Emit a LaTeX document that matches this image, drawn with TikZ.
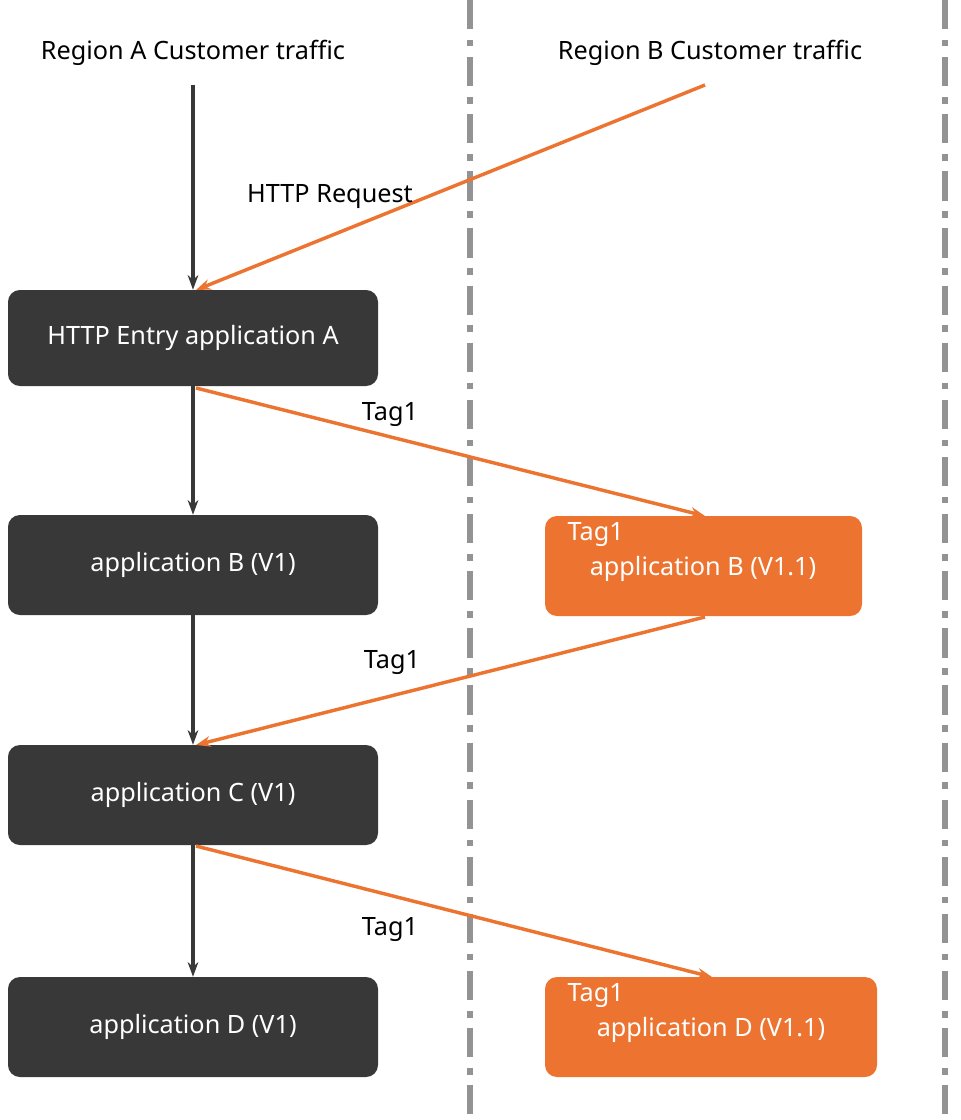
\documentclass[tikz,border=0pt]{standalone}
\usepackage{fontspec}
\setmainfont{Noto Sans}
\usetikzlibrary{arrows.meta}
\definecolor{dk}{HTML}{383838}
\definecolor{org}{HTML}{EC7430}
\begin{document}
\begin{tikzpicture}[x=0.0264583cm,y=-0.0264583cm,
  darkbox/.style={draw=none,fill=dk,rounded corners=9pt,text=white,minimum width=370\pgfmarkbase,font=\fontsize{19}{22}\selectfont},
  lbl/.style={font=\fontsize{19}{22}\selectfont,text=black},
  darr/.style={draw=dk,line width=2.6pt,-{Stealth[length=11pt,width=8pt]}},
  oarr/.style={draw=org,line width=2.6pt,-{Stealth[length=11pt,width=8pt]}},
  sep/.style={draw=gray!85,line width=3.8pt,dash pattern=on 22pt off 8pt on 5pt off 8pt}]
\def\pgfmarkbase{px}
\useasboundingbox (0,0) rectangle (960,1120);
\fill[white] (0,0) rectangle (960,1120);
\coordinate (s1t) at (470,0); \coordinate (s1b) at (470,1120);
\coordinate (s2t) at (945,0); \coordinate (s2b) at (945,1120);
\draw[sep] (s1t) -- (s1b);
\draw[sep] (s2t) -- (s2b);
\node[lbl] (ta) at (193,53) {Region A Customer traffic};
\node[lbl] (tb) at (710,53) {Region B Customer traffic};
\coordinate (sa) at (193,85);
\coordinate (sb) at (705,85);
\tikzset{bx/.style={fill=dk,rounded corners=9pt,text=white,font=\fontsize{19}{22}\selectfont,inner sep=0pt}}
\node[bx,minimum width=370*0.0264583cm,minimum height=96*0.0264583cm] (A) at (193,338) {HTTP Entry application A};
\node[bx,minimum width=370*0.0264583cm,minimum height=100*0.0264583cm] (B) at (193,565) {application B (V1)};
\node[bx,minimum width=370*0.0264583cm,minimum height=100*0.0264583cm] (C) at (193,795) {application C (V1)};
\node[bx,minimum width=370*0.0264583cm,minimum height=100*0.0264583cm] (D) at (193,1027) {application D (V1)};
\node[bx,fill=org,minimum width=317*0.0264583cm,minimum height=100*0.0264583cm] (OB) at (703.5,566) {};
\node[bx,fill=org,minimum width=332*0.0264583cm,minimum height=100*0.0264583cm] (OD) at (711,1027) {};
\node[lbl,text=white,anchor=west] (obt) at (563,535) {Tag1};
\node[lbl,text=white] (obl) at (703,569) {application B (V1.1)};
\node[lbl,text=white,anchor=west] (odt) at (563,996) {Tag1};
\node[lbl,text=white] (odl) at (711,1030) {application D (V1.1)};
\draw[darr] (sa) -- (A.north);
\draw[darr] (A.south) -- (B.north);
\draw[darr] (B.south) -- (C.north);
\draw[darr] (C.south) -- (D.north);
\coordinate (a1) at (196,290);
\coordinate (a2) at (196,388);
\coordinate (ob1) at (705,516);
\coordinate (ob2) at (705,617);
\coordinate (c1) at (196,745);
\coordinate (c2) at (196,846);
\coordinate (od1) at (712,977);
\draw[oarr] (sb) -- (a1);
\draw[oarr] (a2) -- (ob1);
\draw[oarr] (ob2) -- (c1);
\draw[oarr] (c2) -- (od1);
\node[lbl] (hr) at (330,197) {HTTP Request};
\node[lbl] (t1) at (390,415) {Tag1};
\node[lbl] (t2) at (392,663) {Tag1};
\node[lbl] (t3) at (390,930) {Tag1};
\end{tikzpicture}
\end{document}
